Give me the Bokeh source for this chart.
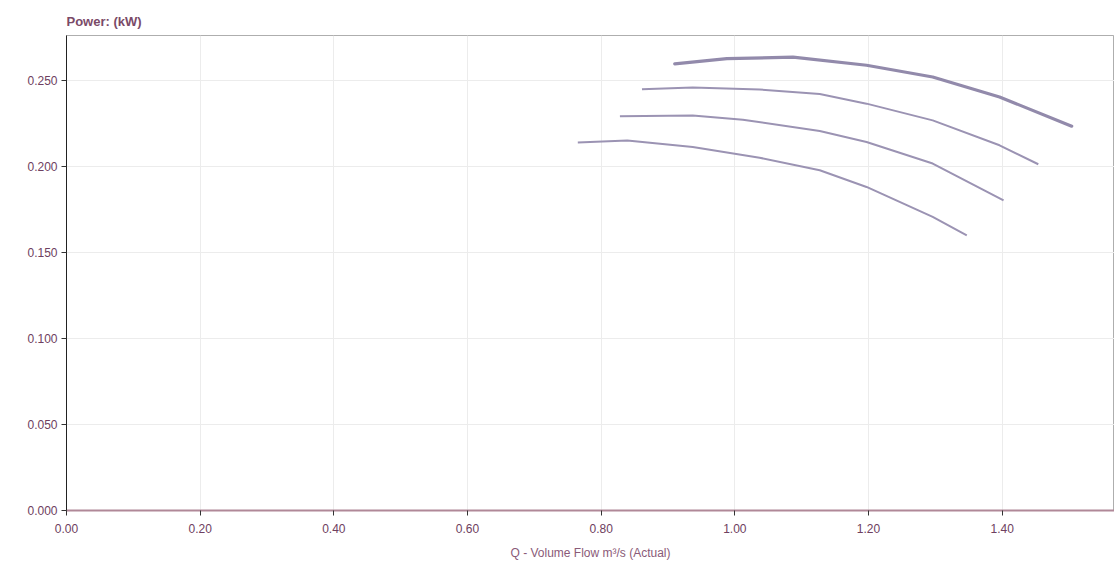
from bokeh.plotting import figure
from bokeh.models import FixedTicker, NumeralTickFormatter, Range1d
from bokeh.embed import file_html
from bokeh.resources import INLINE

# Flow (m3/s) and power (kW) for four curves
q1 = [0.910, 0.988, 1.087, 1.197, 1.296, 1.396, 1.504]
p1 = [0.2595, 0.2626, 0.2634, 0.2587, 0.2519, 0.2403, 0.2233]
q2 = [0.861, 0.937, 1.037, 1.127, 1.197, 1.296, 1.396, 1.454]
p2 = [0.2448, 0.2458, 0.2446, 0.2420, 0.2364, 0.2267, 0.2122, 0.2012]
q3 = [0.828, 0.937, 1.012, 1.127, 1.197, 1.296, 1.402]
p3 = [0.2291, 0.2295, 0.2271, 0.2205, 0.2141, 0.2016, 0.1802]
q4 = [0.765, 0.839, 0.937, 1.037, 1.127, 1.197, 1.296, 1.347]
p4 = [0.2138, 0.2150, 0.2112, 0.2050, 0.1977, 0.1880, 0.1706, 0.1599]

x_ticks = [0.0, 0.2, 0.4, 0.6, 0.8, 1.0, 1.2, 1.4]
y_ticks = [0.0, 0.05, 0.10, 0.15, 0.20, 0.25]

p = figure(width=1114, height=566, output_backend="svg", toolbar_location=None,
           x_range=Range1d(0, 1.568), y_range=Range1d(0, 0.276),
           min_border_left=66, min_border_right=0, min_border_top=35, min_border_bottom=56,
           title="Power: (kW)")
p.title.text_font = "Liberation Sans"
p.title.text_font_size = "13px"
p.title.text_font_style = "bold"
p.title.text_color = "#7a4a68"
p.title.align = "left"
p.title.standoff = 13

p.outline_line_color = "#9a9a9a"
p.outline_line_alpha = 0.8

curve_color = "#9b93b3"
p.line(q1, p1, line_color="#928aab", line_width=3.2, line_join="round", line_cap="round")
p.line(q2, p2, line_color=curve_color, line_width=2, line_join="round")
p.line(q3, p3, line_color=curve_color, line_width=2, line_join="round")
p.line(q4, p4, line_color=curve_color, line_width=2, line_join="round")

p.xaxis.ticker = FixedTicker(ticks=x_ticks)
p.yaxis.ticker = FixedTicker(ticks=y_ticks)
p.xaxis.formatter = NumeralTickFormatter(format="0.00")
p.yaxis.formatter = NumeralTickFormatter(format="0.000")
p.xaxis.minor_tick_line_color = None
p.yaxis.minor_tick_line_color = None

for ax in (p.xaxis, p.yaxis):
    ax.major_label_text_font = "Liberation Sans"
    ax.major_label_text_font_size = "12px"
    ax.major_label_text_color = "#6e4060"
    ax.major_tick_in = 0
    ax.major_tick_out = 5
    ax.major_tick_line_color = "#333333"

p.xaxis.major_label_standoff = 8
p.yaxis.major_label_standoff = 4

p.yaxis.axis_line_color = "#222222"
p.xaxis.axis_line_color = "#b08898"
p.xaxis.axis_line_width = 2

p.xaxis.axis_label = "Q - Volume Flow m³/s (Actual)"
p.xaxis.axis_label_text_font = "Liberation Sans"
p.xaxis.axis_label_text_font_size = "12px"
p.xaxis.axis_label_text_font_style = "normal"
p.xaxis.axis_label_text_color = "#8a5a78"
p.xaxis.axis_label_standoff = 10

p.xgrid.grid_line_color = "#ececec"
p.ygrid.grid_line_color = "#ececec"

open("out.html", "w").write(file_html(p, INLINE))
